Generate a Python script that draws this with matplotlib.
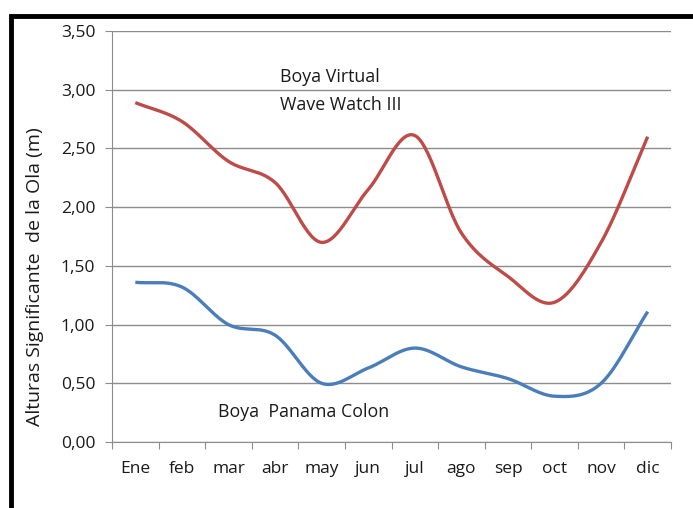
import numpy as np
import matplotlib
matplotlib.use("Agg")
import matplotlib.pyplot as plt
from matplotlib.patches import Rectangle

months = ["Ene", "feb", "mar", "abr", "may", "jun", "jul", "ago", "sep", "oct", "nov", "dic"]
virtual_ww3 = [2.89, 2.73, 2.39, 2.21, 1.70, 2.15, 2.61, 1.78, 1.41, 1.19, 1.70, 2.60]
panama_colon = [1.36, 1.32, 1.00, 0.91, 0.50, 0.63, 0.80, 0.64, 0.54, 0.39, 0.50, 1.11]
yticks = [0.0, 0.5, 1.0, 1.5, 2.0, 2.5, 3.0, 3.5]
ytick_labels = ["0,00", "0,50", "1,00", "1,50", "2,00", "2,50", "3,00", "3,50"]

plt.rcParams['font.family'] = ['Open Sans', 'DejaVu Sans']

def smooth(y, n=30):
    # Catmull-Rom style smoothing like Excel's smoothed line
    x = np.arange(len(y), dtype=float)
    y = np.asarray(y, dtype=float)
    px = np.concatenate([[2 * x[0] - x[1]], x, [2 * x[-1] - x[-2]]])
    py = np.concatenate([[2 * y[0] - y[1]], y, [2 * y[-1] - y[-2]]])
    xs, ys = [], []
    for i in range(1, len(px) - 2):
        t = np.linspace(0, 1, n, endpoint=False)
        for arr, out in ((px, xs), (py, ys)):
            p0, p1, p2, p3 = arr[i - 1], arr[i], arr[i + 1], arr[i + 2]
            out.extend(0.5 * ((2 * p1) + (-p0 + p2) * t + (2 * p0 - 5 * p1 + 4 * p2 - p3) * t ** 2
                              + (-p0 + 3 * p1 - 3 * p2 + p3) * t ** 3))
    xs.append(x[-1]); ys.append(y[-1])
    return np.array(xs), np.array(ys)

W, H = 693, 508
fig = plt.figure(figsize=(W / 100, H / 100), dpi=100)
ax = fig.add_axes([112 / W, 1 - 442 / H, (671 - 112) / W, (442 - 31) / H])

# outer frame
fig.patches.append(Rectangle((11 / W, -0.2), 2, 1 - 16 / H + 0.2, transform=fig.transFigure,
                             fill=False, edgecolor="black", linewidth=3.5, zorder=10))

for vals, col in ((virtual_ww3, "#BE4B48"), (panama_colon, "#4A7EBB")):
    sx, sy = smooth(vals)
    ax.plot(sx, sy, color=col, linewidth=2.4, solid_capstyle="butt", zorder=3)

ax.set_xlim(-0.5, 11.5)
ax.set_ylim(0, 3.5)
ax.set_yticks(yticks)
ax.set_yticklabels(ytick_labels, fontsize=12.5, color="#1a1a1a")
ax.yaxis.grid(True, color="#8C8C8C", linewidth=1.0)
ax.set_axisbelow(True)

ax.set_xticks(np.arange(-0.5, 12, 1))
ax.set_xticklabels([])
ax.set_xticks(np.arange(12), minor=True)
ax.set_xticklabels(months, minor=True, fontsize=12.5, color="#1a1a1a")
ax.tick_params(axis="x", which="minor", length=0, pad=14)
ax.tick_params(axis="x", which="major", length=5, color="#8C8C8C", direction="out")
ax.tick_params(axis="y", length=5, color="#8C8C8C", direction="out", pad=7)

for s in ("top", "right"):
    ax.spines[s].set_visible(False)
for s in ("left", "bottom"):
    ax.spines[s].set_color("#8C8C8C")

ax.set_ylabel("Alturas Significante  de la Ola (m)", fontsize=14, color="#1a1a1a")
ax.yaxis.set_label_coords(-0.121, 0.402)

fs = 12.8
fig.text(280 / W, 1 - 77 / H, "Boya Virtual", fontsize=fs, va="center", ha="left", color="#1a1a1a")
fig.text(280 / W, 1 - 105 / H, "Wave Watch III", fontsize=fs, va="center", ha="left", color="#1a1a1a")
fig.text(218 / W, 1 - 412 / H, "Boya  Panama Colon", fontsize=fs, va="center", ha="left", color="#1a1a1a")

fig.savefig("out.png", dpi=100)
